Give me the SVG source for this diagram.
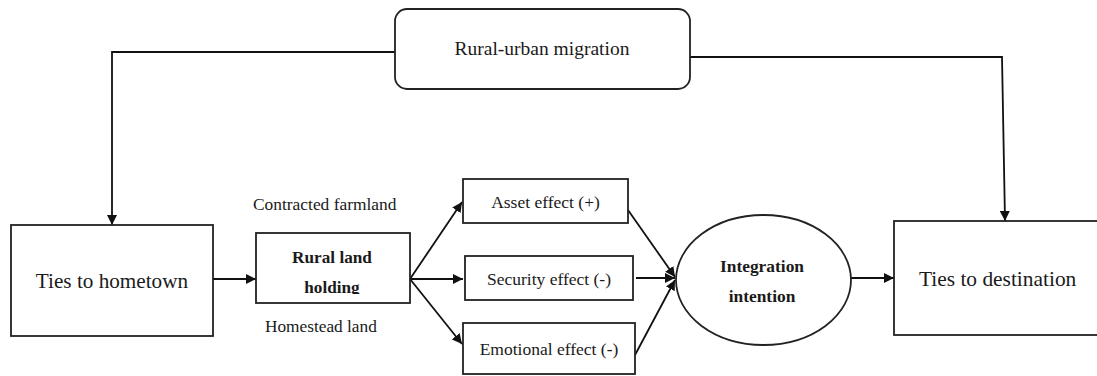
<svg xmlns="http://www.w3.org/2000/svg" width="1097" height="376" viewBox="0 0 1097 376">
<style>
.box{fill:#fff;stroke:#222;stroke-width:1.8}
.ln{fill:none;stroke:#111;stroke-width:1.8}
text{fill:#1a1a1a}
.b{font-weight:bold}
</style>
<defs>
<marker id="ah" viewBox="0 0 10 10" refX="10" refY="5" markerWidth="10" markerHeight="10" markerUnits="userSpaceOnUse" orient="auto">
<path d="M0,0 L10,5 L0,10 z" fill="#111"/>
</marker>
<clipPath id="clipRL"><rect x="256" y="233" width="154" height="61"/></clipPath>
</defs>
<rect width="1097" height="376" fill="#fff"/>
<g id="connectors">
<polyline class="ln" points="395,52 112,52 112,225" marker-end="url(#ah)"/>
<polyline class="ln" points="690,57 1002,57 1005,221" marker-end="url(#ah)"/>
<line class="ln" x1="213" y1="279" x2="256" y2="279" marker-end="url(#ah)"/>
<line class="ln" x1="410" y1="279" x2="462" y2="202" marker-end="url(#ah)"/>
<line class="ln" x1="410" y1="279" x2="463" y2="279" marker-end="url(#ah)"/>
<line class="ln" x1="410" y1="279" x2="462" y2="344" marker-end="url(#ah)"/>
<line class="ln" x1="628" y1="210" x2="675" y2="277" marker-end="url(#ah)"/>
<line class="ln" x1="636" y1="278" x2="675" y2="278" marker-end="url(#ah)"/>
<line class="ln" x1="635" y1="355" x2="675" y2="280" marker-end="url(#ah)"/>
<line class="ln" x1="851" y1="278" x2="894" y2="278" marker-end="url(#ah)"/>
</g>
<g font-family="'Liberation Serif', 'Times New Roman', 'DejaVu Serif', serif">
<g id="migration">
<rect class="box" x="395" y="9" width="295" height="80" rx="12"/>
<text x="542" y="55" font-size="19.5" text-anchor="middle">Rural-urban migration</text>
</g>
<g id="hometown">
<rect class="box" x="11" y="225" width="202" height="111"/>
<text x="112" y="288" font-size="21.2" text-anchor="middle">Ties to hometown</text>
</g>
<g id="landholding">
<rect class="box" x="256" y="233" width="154" height="70"/>
<text class="b" x="332" y="263" font-size="17.2" text-anchor="middle">Rural land</text>
<text class="b" x="332" y="293" font-size="17.2" text-anchor="middle" clip-path="url(#clipRL)">holding</text>
</g>
<g id="farmland">
<text x="253" y="210" font-size="17.4">Contracted farmland</text>
</g>
<g id="homestead">
<text x="265" y="332" font-size="17.3">Homestead land</text>
</g>
<g id="asset">
<rect class="box" x="463" y="179" width="165" height="44"/>
<text x="545.5" y="208" font-size="17.5" text-anchor="middle">Asset effect (+)</text>
</g>
<g id="security">
<rect class="box" x="465" y="256" width="168" height="44"/>
<text x="549" y="285" font-size="17.5" text-anchor="middle">Security effect (-)</text>
</g>
<g id="emotional">
<rect class="box" x="463" y="323" width="172" height="51"/>
<text x="549" y="355" font-size="17.5" text-anchor="middle">Emotional effect (-)</text>
</g>
<g id="intention">
<ellipse class="box" cx="763.5" cy="280" rx="87.5" ry="65"/>
<text class="b" x="762" y="272" font-size="17.4" text-anchor="middle">Integration</text>
<text class="b" x="762" y="302" font-size="17.4" text-anchor="middle">intention</text>
</g>
<g id="destination">
<rect class="box" x="894" y="221" width="215" height="114"/>
<text x="919" y="286" font-size="21.4">Ties to destination</text>
</g>
</g>
</svg>
